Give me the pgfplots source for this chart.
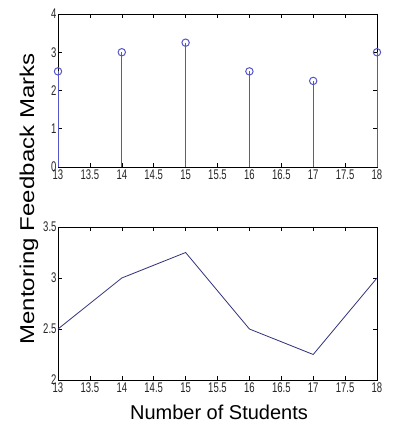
\documentclass[border=0pt]{standalone}
\usepackage{pgfplots}
\pgfplotsset{compat=1.18}
\usepackage{fontspec}
\setmainfont{Liberation Sans}
\newfontfamily\tickfont[FakeStretch=0.68]{Liberation Sans}
\newfontfamily\ylabfont[FakeStretch=1.2]{Liberation Sans}
\definecolor{stemblue}{RGB}{85,85,200}
\definecolor{lineblue}{RGB}{50,50,125}
\begin{document}
\begin{tikzpicture}
\path (0pt,0pt) rectangle (394pt,435pt);
\pgfplotsset{
  mstyle/.style={
    scale only axis, width=319pt,
    xmin=13, xmax=18, xtick={13,13.5,...,18},
    tick align=inside, major tick length=4pt,
    axis line style={black, line width=0.6pt},
    every tick/.style={black, line width=0.5pt},
    tick label style={font=\tickfont\fontsize{14}{14}\selectfont, text=black!85},
    /pgf/number format/assume math mode=true,
    xticklabel style={yshift=1pt},
    yticklabel style={xshift=2pt},
    clip=false,
  }
}
\begin{axis}[mstyle, at={(58pt,268pt)}, anchor=south west, height=153pt,
  ymin=0, ymax=4, ytick={0,1,2,3,4}]
\addplot[color=stemblue, ycomb, line width=1pt, mark=none] coordinates {
  (13,2.5) (14,3) (15,3.25) (16,2.5) (17,2.25) (18,3)};
\addplot[color=stemblue, only marks, mark=o, mark size=3.7pt,
  mark options={line width=1pt}] coordinates {
  (13,2.5) (14,3) (15,3.25) (16,2.5) (17,2.25) (18,3)};
\end{axis}
\begin{axis}[mstyle, at={(58pt,55pt)}, anchor=south west, height=153pt,
  ymin=2, ymax=3.5, ytick={2,2.5,3,3.5},
  yticklabels={2,2.5,3,3.5}]
\addplot[color=lineblue, line width=0.8pt, mark=none] coordinates {
  (13,2.5) (14,3) (15,3.25) (16,2.5) (17,2.25) (18,3)};
\end{axis}
\node[font=\fontsize{20}{20}\selectfont, anchor=base] at (219pt,15pt) {Number of Students};
\node[font=\ylabfont\fontsize{20}{20}\selectfont, rotate=90, anchor=base] at (34pt,236pt) {Mentoring Feedback Marks};
\end{tikzpicture}
\end{document}
